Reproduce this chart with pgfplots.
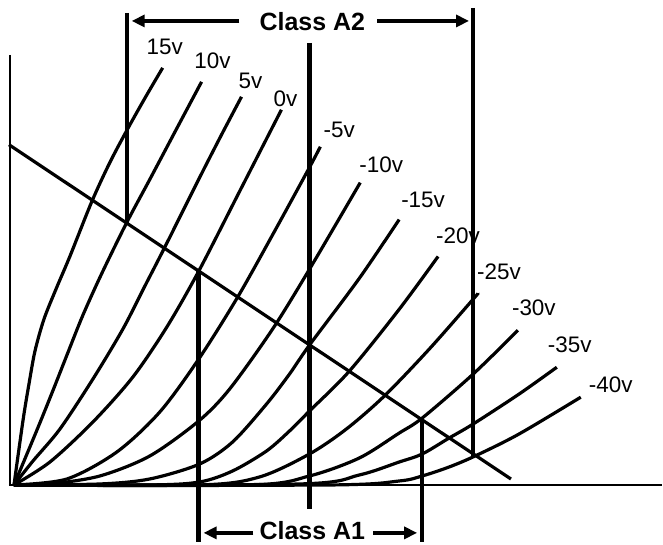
\documentclass[border=0pt]{standalone}
\usepackage{pgfplots}
\pgfplotsset{compat=1.18}
\usepackage{fontspec}
\setmainfont{Liberation Sans}
\usetikzlibrary{arrows.meta}
\tikzset{
  lbl/.style={font=\fontsize{22.5}{22.5}\selectfont, inner sep=0pt},
  ttl/.style={font=\fontsize{25}{25}\selectfont\bfseries, inner sep=0pt},
}
\begin{document}
\begin{tikzpicture}
\begin{axis}[
  x=1pt, y=1pt, y dir=reverse,
  xmin=0, xmax=663, ymin=0, ymax=543,
  hide axis, clip=false,
  every axis plot/.append style={black, line width=3.2pt, mark=none, line join=round},
]
\path (axis cs:0,0) rectangle (axis cs:663,543);
% axes
\addplot[line width=2.8pt] coordinates {(10,55) (10,487)};
\addplot[line width=2.8pt] coordinates {(9,486) (663,486)};
% plate curves
\addplot[smooth, tension=0.5] coordinates {(14,486) (19,450) (24,415) (29,385) (35,352) (44,320) (56,290) (70,257) (92,202) (110,163) (128,129) (146,97) (163,68)};
\addplot[smooth, tension=0.5] coordinates {(14,486) (37,431) (52,394) (67,356) (83,316) (102,274) (127,223) (150,180) (177,129) (202,82)};
\addplot[smooth, tension=0.5] coordinates {(14,486) (33,462) (60,430) (93,380) (123,330) (145,287) (165,248) (200,178) (222,135) (242,97)};
\addplot[smooth, tension=0.5] coordinates {(14,486) (50,463) (93,423) (133,378) (167,328) (199,272) (240,192) (282,110)};
\addplot[smooth, tension=0.5] coordinates {(14,486) (67,480) (117,453) (160,413) (199,360) (238,298) (275,232) (310,168) (321,147)};
\addplot[smooth, tension=0.5] coordinates {(14,486) (50,485) (100,477) (150,457) (199,422) (230,390) (273,330) (310,270) (361,183)};
\addplot[smooth, tension=0.5] coordinates {(14,486) (100,485) (150,480) (200,465) (233,443) (267,405) (290,375) (310,346) (360,279) (400,220)};
\addplot[smooth, tension=0.5] coordinates {(14,486) (150,486) (200,483) (233,472) (267,452) (290,432) (310,412) (350,372) (400,310) (439,257)};
\addplot[smooth, tension=0.5] coordinates {(14,486) (200,486) (260,478) (310,455) (347,430) (385,397) (430,350) (474,300) (479,294)};
\addplot[smooth, tension=0.5] coordinates {(14,486) (250,486) (310,477) (360,459) (400,434) (423,419) (474,375) (519,331)};
\addplot[smooth, tension=0.5] coordinates {(14,486) (300,485) (360,476) (400,463) (423,455) (450,439) (474,425) (520,395) (558,368)};
\addplot[smooth, tension=0.5] coordinates {(14,486) (330,486) (400,482) (423,477) (450,468) (476,457) (520,435) (582,398)};
% load line
\addplot[line width=3.2pt] coordinates {(9,145) (512,480)};
% vertical class lines
\addplot[line width=4.4pt] coordinates {(127,13) (127,223)};
\addplot[line width=4.4pt] coordinates {(310,43) (310,510)};
\addplot[line width=4.4pt] coordinates {(474,8) (474,458)};
\addplot[line width=4.4pt] coordinates {(199,271) (199,543)};
\addplot[line width=4.4pt] coordinates {(423,419) (423,543)};
% arrows
\addplot[line width=3.6pt, -{Triangle[length=13pt,width=12pt]}] coordinates {(240,21) (132,21)};
\addplot[line width=3.6pt, -{Triangle[length=13pt,width=12pt]}] coordinates {(378,21) (470,21)};
\addplot[line width=3.6pt, -{Triangle[length=13pt,width=12pt]}] coordinates {(254,534) (204,534)};
\addplot[line width=3.6pt, -{Triangle[length=13pt,width=12pt]}] coordinates {(374,534) (418,534)};
% titles
\node[ttl] at (axis cs:313,22) {Class A2};
\node[ttl] at (axis cs:313,531.5) {Class A1};
% labels
\node[lbl] at (axis cs:165,47) {15v};
\node[lbl] at (axis cs:213,61) {10v};
\node[lbl] at (axis cs:251,81) {5v};
\node[lbl] at (axis cs:286,99) {0v};
\node[lbl] at (axis cs:340,130) {-5v};
\node[lbl] at (axis cs:382,165) {-10v};
\node[lbl] at (axis cs:424,200) {-15v};
\node[lbl] at (axis cs:459,236) {-20v};
\node[lbl] at (axis cs:500,272) {-25v};
\node[lbl] at (axis cs:535,308) {-30v};
\node[lbl] at (axis cs:571,345) {-35v};
\node[lbl] at (axis cs:612,386) {-40v};
\end{axis}
\end{tikzpicture}
\end{document}
